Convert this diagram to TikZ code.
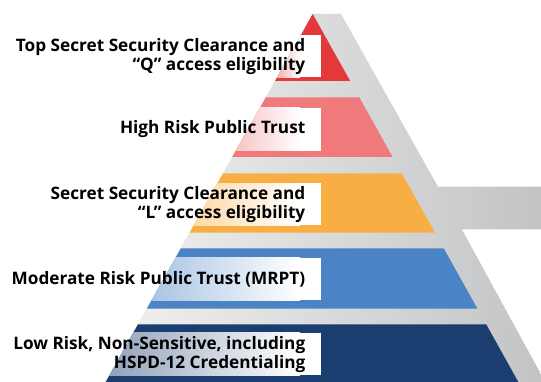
\documentclass[tikz,border=0pt]{standalone}
\usepackage{fontspec}
\setmainfont{Open Sans}
\usetikzlibrary{calc}

\definecolor{tierred}{HTML}{E3393A}
\definecolor{tierpink}{HTML}{F07A7B}
\definecolor{tierorange}{HTML}{F9AE43}
\definecolor{tierblue}{HTML}{4A84C4}
\definecolor{tiernavy}{HTML}{1A3E70}
\definecolor{shadelight}{HTML}{F2F2F2}
\definecolor{shadedark}{HTML}{C2C3C5}

\tikzset{
  tierlabel/.style={anchor=east, align=right, inner sep=0pt, text=black,
    font=\bfseries\fontsize{17.2}{19}\selectfont},
}

% band with a white label panel that fades into the band colour
% #1 colour, #2 polygon, #3 left x of fade, #4 top y, #5 bottom y
\newcommand{\tierband}[5]{%
  \fill[#1] #2;
  \begin{scope}
    \clip #2;
    \shade[left color=#1!50!white, right color=white] (#3,#4) rectangle (300,#5);
    \fill[white] (299.5,#4) rectangle (321,#5);
  \end{scope}
}

\begin{document}
\begin{tikzpicture}[x=1pt,y=-1pt]
  \useasboundingbox (0,0) rectangle (541,382);
  \fill[white] (0,0) rectangle (541,382);

  % grey backing pyramid with the side bar
  \begin{scope}
    \clip (0,0) rectangle (541,382);
    \shade[left color=shadelight, right color=shadedark]
      (312.7,14) -- (341,14) -- (437.9,186.7) -- (545,186.7) -- (545,229.3)
      -- (461.8,229.3) -- (547.4,386) -- (103,386) -- cycle;
  \end{scope}

  % coloured tiers
  \tierband{tierred}{(312.7,14) -- (350.2,81) -- (275.0,81) -- cycle}{270}{35}{77.3}
  \tierband{tierpink}{(265.8,97.3) -- (359.3,97.3) -- (392.6,157) -- (232.2,157) -- cycle}{228}{107.7}{150.7}
  \tierband{tierorange}{(223.0,173.3) -- (401.7,173.3) -- (435.0,232.7) -- (189.6,232.7) -- cycle}{186}{183.3}{225.3}
  \tierband{tierblue}{(180.8,248.3) -- (443.7,248.3) -- (477.4,308.7) -- (146.8,308.7) -- cycle}{143}{257.7}{300}
  \tierband{tiernavy}{(138.0,324.3) -- (486.2,324.3) -- (520,385) -- (104,385) -- cycle}{100}{332.7}{375.3}

  % labels
  \node[tierlabel] (topsecret) at (305.5,56.5) {Top Secret Security Clearance and\\“Q” access eligibility};
  \node[tierlabel] (highrisk) at (305.5,129) {High Risk Public Trust};
  \node[tierlabel] (secret) at (305.5,204.5) {Secret Security Clearance and\\“L” access eligibility};
  \node[tierlabel] (moderate) at (305.5,279) {Moderate Risk Public Trust (MRPT)};
  \node[tierlabel] (lowrisk) at (305.5,354.5) {Low Risk, Non-Sensitive, including\\HSPD-12 Credentialing};
\end{tikzpicture}
\end{document}
